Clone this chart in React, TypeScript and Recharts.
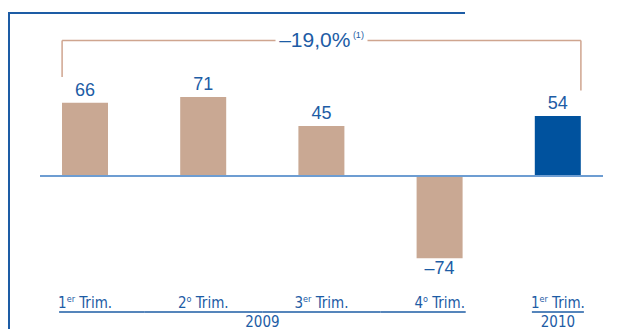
import { BarChart, Bar, XAxis, YAxis, Cell, LabelList, ReferenceLine } from 'recharts';

const categories = ['q1-2009', 'q2-2009', 'q3-2009', 'q4-2009', 'q1-2010'];
const quarterNums = ['1', '2', '3', '4', '1'];
const quarterSups = ['er', 'o', 'er', 'o', 'er'];
const values = [66, 71, 45, -74, 54];
const yearGroups = [
  { label: '2009', from: 0, to: 3 },
  { label: '2010', from: 4, to: 4 },
];
const changeLabel = '–19,0%';
const changeNote = '(1)';

const W = 621;
const H = 329;
const MARGIN = { top: 76, right: 4, bottom: 0, left: 26 };
const STEP = (W - MARGIN.left - MARGIN.right) / categories.length;
const BAR_SIZE = 46;

const TAN = '#c9a893';
const NAVY = '#00529e';
const TEXT = '#1d5ca5';
const BASE = '#6d9dd2';
const FONT = '"Liberation Sans", Arial, sans-serif';
const NARROW = '"DejaVu Sans Condensed", "DejaVu Sans", sans-serif';

const data = categories.map((c, i) => ({ cat: c, value: values[i] }));

function ValueLabel(props: any) {
  const { x, y, width, height, value } = props;
  const top = Math.min(y, y + height);
  const bottom = Math.max(y, y + height);
  const neg = value < 0;
  return (
    <text
      x={x + width / 2}
      y={neg ? bottom + 16 : top - 7}
      textAnchor="middle"
      fill={TEXT}
      fontSize={18}
      fontFamily={FONT}
    >
      {neg ? `–${Math.abs(value)}` : value}
    </text>
  );
}

function QuarterTick(props: any) {
  const { x, y, payload } = props;
  const i = payload.index;
  const group = yearGroups.find(g => i >= g.from && i <= g.to)!;
  const left = i === group.from ? x - 26 : x - STEP / 2;
  const right = i === group.to ? x + 26 : x + STEP / 2;
  return (
    <g fontFamily={NARROW} fill={TEXT}>
      <text x={x} y={y + 32} textAnchor="middle" fontSize={15}>
        {quarterNums[i]}
        <tspan fontSize={9} dy={-6}>{quarterSups[i]}</tspan>
        <tspan dy={6}> Trim.</tspan>
      </text>
      <line x1={left} x2={right} y1={y + 36} y2={y + 36} stroke={TEXT} strokeWidth={1.5} />
      {i === group.from && (
        <text x={x + ((group.to - group.from) * STEP) / 2} y={y + 51} textAnchor="middle" fontSize={15}>
          {group.label}
        </text>
      )}
    </g>
  );
}

function Baseline(props: any) {
  const { x1, x2, y1 } = props;
  return <line x1={x1 + 14} x2={x2 - 14} y1={y1} y2={y1} stroke={BASE} strokeWidth={2} />;
}

function BracketTop(props: any) {
  const { x1, x2, y1 } = props;
  const l = x1 - BAR_SIZE / 2;
  const r = x2 + BAR_SIZE / 2;
  const mid = (l + r) / 2;
  return (
    <g>
      <line x1={l} x2={mid - 46} y1={y1} y2={y1} stroke="#cfa58f" strokeWidth={1.5} />
      <line x1={mid + 46} x2={r} y1={y1} y2={y1} stroke="#cfa58f" strokeWidth={1.5} />
      <text x={mid} y={y1 + 7} textAnchor="middle" fill={TEXT} fontFamily={FONT} fontSize={21}>
        {changeLabel}
        <tspan fontSize={9} dy={-9}> {changeNote}</tspan>
      </text>
    </g>
  );
}

function BracketLeg(side: number) {
  return (props: any) => {
    const { x1, y1, y2 } = props;
    const x = x1 + (side * BAR_SIZE) / 2;
    return <line x1={x} x2={x} y1={y1} y2={y2} stroke="#cfa58f" strokeWidth={1.5} />;
  };
}

export default function App() {
  return (
    <div style={{ position: 'absolute', left: 0, top: 0, width: W, height: H, overflow: 'hidden', background: '#fff' }}>
      <div
        style={{
          position: 'absolute',
          left: 8,
          top: 12,
          width: 455,
          height: H,
          borderLeft: `2px solid ${TEXT}`,
          borderTop: `2px solid ${TEXT}`,
        }}
      />
      <div style={{ position: 'absolute', left: 0, top: 0 }}>
        <BarChart width={W} height={H} data={data} margin={MARGIN}>
          <XAxis
            dataKey="cat"
            axisLine={false}
            tickLine={false}
            tickSize={0}
            tickMargin={0}
            height={53}
            interval={0}
            tick={<QuarterTick />}
          />
          <YAxis hide domain={[-90, 90]} />
          <Bar dataKey="value" barSize={BAR_SIZE} isAnimationActive={false}>
            {data.map((d, i) => (
              <Cell key={d.cat} fill={i === data.length - 1 ? NAVY : TAN} />
            ))}
            <LabelList dataKey="value" content={<ValueLabel />} />
          </Bar>
          <ReferenceLine y={0} shape={<Baseline />} />
          <ReferenceLine
            ifOverflow="visible"
            segment={[{ x: categories[0], y: 122 }, { x: categories[4], y: 122 }]}
            shape={<BracketTop />}
          />
          <ReferenceLine
            ifOverflow="visible"
            segment={[{ x: categories[0], y: 122 }, { x: categories[0], y: 89 }]}
            shape={BracketLeg(-1)}
          />
          <ReferenceLine
            ifOverflow="visible"
            segment={[{ x: categories[4], y: 122 }, { x: categories[4], y: 77 }]}
            shape={BracketLeg(1)}
          />
        </BarChart>
      </div>
    </div>
  );
}
